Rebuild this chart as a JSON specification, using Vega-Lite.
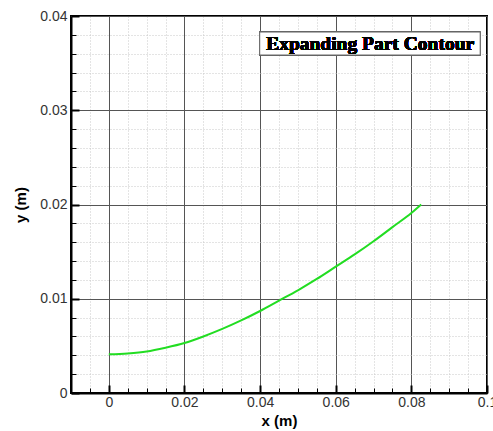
{
  "$schema": "https://vega.github.io/schema/vega-lite/v6.json",
  "width": 416,
  "height": 377,
  "autosize": "none",
  "padding": {"left": 71, "top": 16, "right": 6, "bottom": 38},
  "background": "white",
  "config": {
    "view": {"stroke": "#000", "strokeWidth": 2},
    "font": "Liberation Sans"
  },
  "data": {
    "values": [
      {"x": 0.0, "y": 0.0041},
      {"x": 0.005, "y": 0.0042},
      {"x": 0.01, "y": 0.0044},
      {"x": 0.015, "y": 0.0048},
      {"x": 0.02, "y": 0.0053},
      {"x": 0.025, "y": 0.006},
      {"x": 0.03, "y": 0.0068},
      {"x": 0.035, "y": 0.0077},
      {"x": 0.04, "y": 0.0087},
      {"x": 0.045, "y": 0.0098},
      {"x": 0.05, "y": 0.0109},
      {"x": 0.055, "y": 0.0121},
      {"x": 0.06, "y": 0.0134},
      {"x": 0.065, "y": 0.0147},
      {"x": 0.07, "y": 0.0161},
      {"x": 0.075, "y": 0.0176},
      {"x": 0.08, "y": 0.0191},
      {"x": 0.0826, "y": 0.02}
    ]
  },
  "layer": [
    {
      "mark": {"type": "line", "color": "#22dd22", "strokeWidth": 2, "interpolate": "monotone"},
      "encoding": {
        "x": {
          "field": "x", "type": "quantitative",
          "scale": {"domain": [-0.01, 0.1], "nice": false, "zero": false},
          "axis": {
            "title": "x (m)",
            "titleFont": "Liberation Sans", "titleFontSize": 15, "titleFontWeight": "bold", "titleColor": "#000",
            "titlePadding": 1,
            "tickCount": 200,
            "values": [-0.01, -0.005, 0, 0.005, 0.01, 0.015, 0.02, 0.025, 0.03, 0.035, 0.04, 0.045, 0.05, 0.055, 0.06, 0.065, 0.07, 0.075, 0.08, 0.085, 0.09, 0.095, 0.1],
            "labelExpr": "abs(datum.value/0.02 - round(datum.value/0.02)) < 0.000001 ? format(datum.value, '.2~f') : ''",
            "labelFontSize": 14, "labelColor": "#333", "labelFont": "Liberation Sans",
            "labelPadding": 10,
            "labelFlush": false, "labelOverlap": false,
            "domain": true, "domainColor": "#000", "domainWidth": 2,
            "grid": true,
            "gridColor": {"condition": {"test": "abs(datum.value/0.02 - round(datum.value/0.02)) < 0.000001", "value": "#555"}, "value": "#c8c8c8"},
            "gridDash": {"condition": {"test": "abs(datum.value/0.02 - round(datum.value/0.02)) < 0.000001", "value": []}, "value": [1, 2]},
            "gridWidth": 1,
            "ticks": true,
            "tickColor": "#000",
            "tickSize": {"condition": {"test": "abs(datum.value/0.02 - round(datum.value/0.02)) < 0.000001", "value": -8}, "value": -5},
            "tickWidth": {"condition": {"test": "abs(datum.value/0.02 - round(datum.value/0.02)) < 0.000001", "value": 2}, "value": 1}
          }
        },
        "y": {
          "field": "y", "type": "quantitative",
          "scale": {"domain": [0, 0.04], "nice": false},
          "axis": {
            "title": "y (m)",
            "titleFont": "Liberation Sans", "titleFontSize": 15, "titleFontWeight": "bold", "titleColor": "#000",
            "titlePadding": 11,
            "tickCount": 200,
            "values": [0, 0.002, 0.004, 0.006, 0.008, 0.01, 0.012, 0.014, 0.016, 0.018, 0.02, 0.022, 0.024, 0.026, 0.028, 0.03, 0.032, 0.034, 0.036, 0.038, 0.04],
            "labelExpr": "abs(datum.value/0.01 - round(datum.value/0.01)) < 0.000001 ? format(datum.value, '.2~f') : ''",
            "labelFontSize": 14, "labelColor": "#333", "labelFont": "Liberation Sans",
            "labelPadding": 12,
            "labelFlush": false, "labelOverlap": false,
            "domain": true, "domainColor": "#000", "domainWidth": 2,
            "grid": true,
            "gridColor": {"condition": {"test": "abs(datum.value/0.01 - round(datum.value/0.01)) < 0.000001", "value": "#555"}, "value": "#c8c8c8"},
            "gridDash": {"condition": {"test": "abs(datum.value/0.01 - round(datum.value/0.01)) < 0.000001", "value": []}, "value": [1, 2]},
            "gridWidth": 1,
            "ticks": true,
            "tickColor": "#000",
            "tickSize": {"condition": {"test": "abs(datum.value/0.01 - round(datum.value/0.01)) < 0.000001", "value": -8}, "value": -5},
            "tickWidth": {"condition": {"test": "abs(datum.value/0.01 - round(datum.value/0.01)) < 0.000001", "value": 2}, "value": 1}
          }
        }
      }
    },
    {
      "mark": {"type": "rect", "fill": "white", "stroke": "#666", "strokeWidth": 1},
      "encoding": {
        "x": {"datum": 0.0399, "type": "quantitative"},
        "x2": {"datum": 0.0982},
        "y": {"datum": 0.0383, "type": "quantitative"},
        "y2": {"datum": 0.03586}
      }
    },
    {
      "mark": {"type": "text", "font": "Liberation Serif", "fontWeight": "bold", "fontSize": 19.5, "color": "#000", "align": "center", "baseline": "middle"},
      "encoding": {
        "x": {"datum": 0.0691, "type": "quantitative"},
        "y": {"datum": 0.03708, "type": "quantitative"},
        "text": {"value": "Expanding Part Contour"}
      }
    }
  ]
}
